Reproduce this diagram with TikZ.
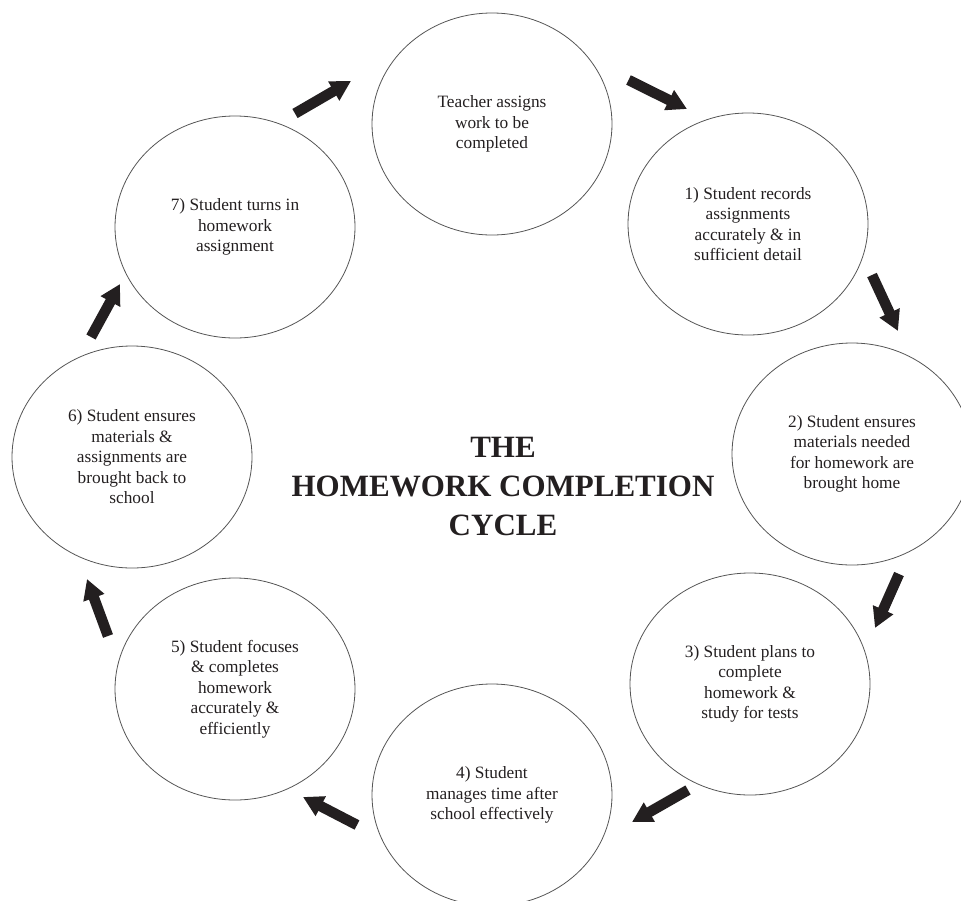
\documentclass[tikz,border=0pt]{standalone}
\usepackage{fontspec}
\setmainfont{Liberation Serif}
\usetikzlibrary{shapes.geometric,arrows.meta}
\definecolor{ink}{HTML}{231F20}
\definecolor{rim}{HTML}{555555}
\tikzset{
  stage/.style={ellipse, draw=rim, line width=0.8pt, minimum width=240pt, minimum height=222pt,
    inner sep=0pt, align=center, text=ink, font=\fontsize{17.3}{20.5}\selectfont},
  blockarrow/.style={draw=ink, line width=10.5pt, -{Triangle[length=20pt,width=21pt]}},
  titletext/.style={align=center, text=ink, font=\bfseries\fontsize{31}{39}\selectfont}
}
\begin{document}
\begin{tikzpicture}[x=1pt,y=-1pt]
\useasboundingbox (0,0) rectangle (961,900);
\clip (0,0) rectangle (961,900);
\node[stage] (s0) at (492,124) {Teacher assigns\\work to be\\completed};
\node[stage] (s1) at (748,224) {1) Student records\\assignments\\accurately \& in\\sufficient detail};
\node[stage] (s2) at (852,454) {2) Student ensures\\materials needed\\for homework are\\brought home};
\node[stage] (s3) at (750,684) {3) Student plans to\\complete\\homework \&\\study for tests};
\node[stage] (s4) at (492,795) {4) Student\\manages time after\\school effectively};
\node[stage] (s5) at (235,689) {5) Student focuses\\\& completes\\homework\\accurately \&\\efficiently};
\node[stage] (s6) at (132,457) {6) Student ensures\\materials \&\\assignments are\\brought back to\\school};
\node[stage] (s7) at (235,227) {7) Student turns in\\homework\\assignment};
\node[titletext] (title) at (503,486) {THE\\HOMEWORK COMPLETION\\CYCLE};
% arrow end points
\coordinate (a0s) at (295,113.5); \coordinate (a0e) at (351,81);
\coordinate (a1s) at (628.5,80);  \coordinate (a1e) at (687,109);
\coordinate (a2s) at (872,275);   \coordinate (a2e) at (898,331);
\coordinate (a3s) at (899,574);   \coordinate (a3e) at (875,628);
\coordinate (a4s) at (688,790);   \coordinate (a4e) at (632,822);
\coordinate (a5s) at (357,825);   \coordinate (a5e) at (303,797);
\coordinate (a6s) at (108,636);   \coordinate (a6e) at (87,579);
\coordinate (a7s) at (91,337);    \coordinate (a7e) at (120,284);
\foreach \i in {0,...,7}{\draw[blockarrow] (a\i s) -- (a\i e);}
\end{tikzpicture}
\end{document}
